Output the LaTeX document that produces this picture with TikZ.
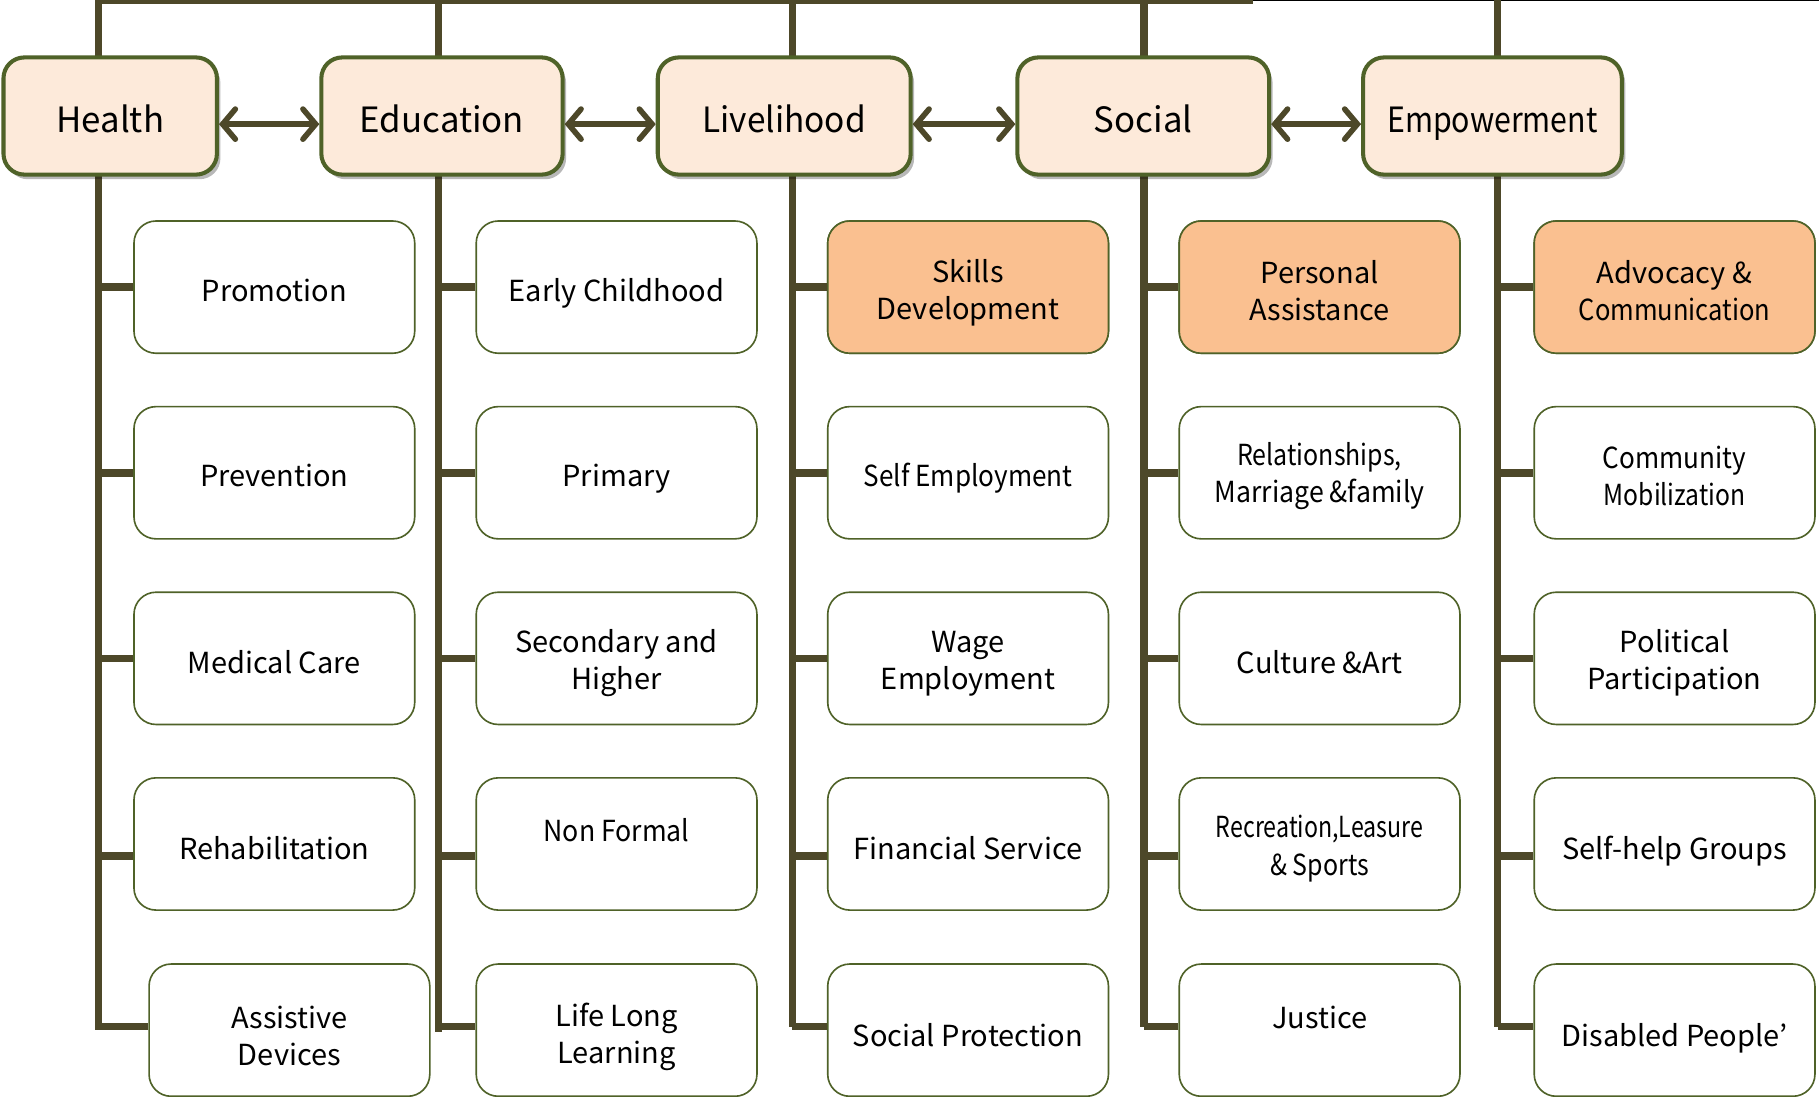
\documentclass[tikz,border=0pt]{standalone}
\usepackage{fontspec}
\usepackage{graphicx}
\setmainfont{Noto Sans CJK JP}
\usetikzlibrary{arrows.meta,shadows}
\definecolor{linec}{HTML}{4D4829}
\definecolor{boxb}{HTML}{4F6228}
\definecolor{headf}{HTML}{FDEADA}
\definecolor{orangef}{HTML}{FAC090}
\newcommand{\cnd}[2]{\scalebox{#1}[1]{#2}}
\begin{document}
\begin{tikzpicture}[x=1pt,y=-1pt,
  head/.style={draw=boxb, line width=3.5pt, fill=headf, rounded corners=18pt,
    minimum width=#1, minimum height=101pt, inner sep=0pt,
    drop shadow={shadow xshift=3pt, shadow yshift=-4pt, fill=black, opacity=0.28}},
  htxt/.style={font=\fontsize{30}{36}\selectfont, inner sep=0pt, text height=22pt, text depth=0pt},
  subbox/.style={draw=boxb, line width=1.4pt, fill=white, rounded corners=19pt,
    minimum width=242pt, minimum height=114pt, inner sep=0pt},
  hot/.style={subbox, fill=orangef},
  stxt/.style={font=\fontsize{25}{32}\selectfont, align=center, inner sep=0pt},
  stxo/.style={font=\fontsize{25}{32}\selectfont, inner sep=0pt, text height=18pt, text depth=0pt},
  trunk/.style={draw=linec, line width=6.5pt},
  link/.style={draw=linec, line width=4.8pt, {Straight Barb[length=11pt,width=26pt,line cap=round]}-{Straight Barb[length=11pt,width=26pt,line cap=round]}}
]
\useasboundingbox[fill=white] (0,0) rectangle (1568,945);

% trunks and top line
\coordinate (t1) at (85,0);
\coordinate (t2) at (378,0);
\coordinate (t3) at (683,0);
\coordinate (t4) at (986,0);
\coordinate (t5) at (1291,0);
\coordinate (tend) at (1080,0);
\coordinate (tright) at (1568,0.6);
\draw[trunk] (t1) -- (tend);
\draw[draw=black, line width=1.2pt] (tend |- tright) -- (tright);

% sub boxes
\foreach \c/\x in {h/236.5, e/531.5, l/834.5, s/1137.5, m/1443.5}{
  \foreach \r/\y in {1/247.5, 2/407.5, 3/567.5, 4/727.5}{
    \node[subbox] (\c\r) at (\x,\y) {};
  }
}
\foreach \c/\x in {e/531.5, l/834.5, s/1137.5, m/1443.5}{
  \node[subbox] (\c5) at (\x,888) {};
}
\node[subbox] (h5) at (249.5,888) {};
\node[hot] (l1) at (834.5,247.5) {};
\node[hot] (s1) at (1137.5,247.5) {};
\node[hot] (m1) at (1443.5,247.5) {};

% trunk lines with stubs
\foreach \c/\t in {h/t1, e/t2, l/t3, s/t4, m/t5}{
  \draw[trunk] (\t) -- (\t |- {0,885});
  \foreach \r in {1,2,3}{
    \draw[trunk] (\c\r.west) -- (\t |- \c\r.west);
  }
  \draw[trunk] ([yshift=-10.5pt]\c4.west) -- (\t |- {0,738});
}
\draw[trunk] (h5.west |- {0,885}) -- (85,885) -- (t1 |- {0,882});
\draw[trunk] (e5.west |- {0,885}) -- (378,885) -- (378,890);
\draw[trunk] (l5.west |- {0,885}) -- (683,885);
\draw[trunk] (s5.west |- {0,885}) -- (986,885);
\draw[trunk] (m5.west |- {0,885}) -- (1291,885);

% header boxes
\node[head=184pt] (health) at (95,100) {};
\node[head=208pt] (edu) at (381,100) {};
\node[head=218pt] (live) at (676,100) {};
\node[head=217pt] (soc) at (985.5,100) {};
\node[head=223pt] (emp) at (1286.5,100) {};
\node[htxt] at ([yshift=-3pt]health.center) {Health};
\node[htxt] at ([yshift=-3pt]edu.center) {Education};
\node[htxt] at ([yshift=-3pt]live.center) {\cnd{0.96}{Livelihood}};
\node[htxt] at ([yshift=-3pt]soc.center) {Social};
\node[htxt] at ([yshift=-3pt]emp.center) {\cnd{0.87}{Empowerment}};

% arrows
\draw[link] ([yshift=-7pt]health.east) -- ([yshift=-7pt]edu.west);
\draw[link] ([yshift=-7pt]edu.east) -- ([yshift=-7pt]live.west);
\draw[link] ([yshift=-7pt]live.east) -- ([yshift=-7pt]soc.west);
\draw[link] ([yshift=-7pt]soc.east) -- ([yshift=-7pt]emp.west);

% sub box texts
\node[stxo] at ([yshift=-3pt]h1.center) {Promotion};
\node[stxo] at ([yshift=-3pt]h2.center) {Prevention};
\node[stxo] at ([yshift=-4pt]h3.center) {Medical Care};
\node[stxo] at ([yshift=-4pt]h4.center) {Rehabilitation};
\node[stxt] at ([yshift=-5pt]h5.center) {Assistive\\Devices};

\node[stxo] at ([yshift=-3pt]e1.center) {Early Childhood};
\node[stxo] at ([yshift=-3pt]e2.center) {Primary};
\node[stxt] at ([yshift=-4pt]e3.center) {Secondary and\\Higher};
\node[stxo] at ([yshift=11pt]e4.center) {\cnd{0.92}{Non Formal}};
\node[stxt] at ([yshift=-6pt]e5.center) {Life Long\\Learning};

\node[stxt] at ([yshift=-5pt]l1.center) {Skills\\Development};
\node[stxo] at ([yshift=-3pt]l2.center) {\cnd{0.9}{Self Employment}};
\node[stxt] at ([yshift=-5pt]l3.center) {Wage\\Employment};
\node[stxo] at ([yshift=-4pt]l4.center) {Financial Service};
\node[stxo] at ([yshift=-5pt]l5.center) {Social Protection};

\node[stxt] at ([yshift=-3pt]s1.center) {Personal\\Assistance};
\node[stxt] at ([yshift=-3pt]s2.center) {\cnd{0.86}{Relationships,}\\\cnd{0.92}{Marriage \&family}};
\node[stxo] at ([yshift=-4pt]s3.center) {Culture \&Art};
\node[stxt] at ([yshift=-4pt]s4.center) {\cnd{0.8}{Recreation,Leasure}\\\cnd{0.86}{\& Sports}};
\node[stxo] at ([yshift=10.5pt]s5.center) {Justice};

\node[stxt] at ([yshift=-3pt]m1.center) {Advocacy \&\\\cnd{0.88}{Communication}};
\node[stxt] at ([yshift=-3pt]m2.center) {\cnd{0.9}{Community}\\\cnd{0.85}{Mobilization}};
\node[stxt] at ([yshift=-4pt]m3.center) {Political\\Participation};
\node[stxo] at ([yshift=-4pt]m4.center) {Self-help Groups};
\node[stxo] at ([yshift=-5pt]m5.center) {Disabled People’};
\end{tikzpicture}
\end{document}
